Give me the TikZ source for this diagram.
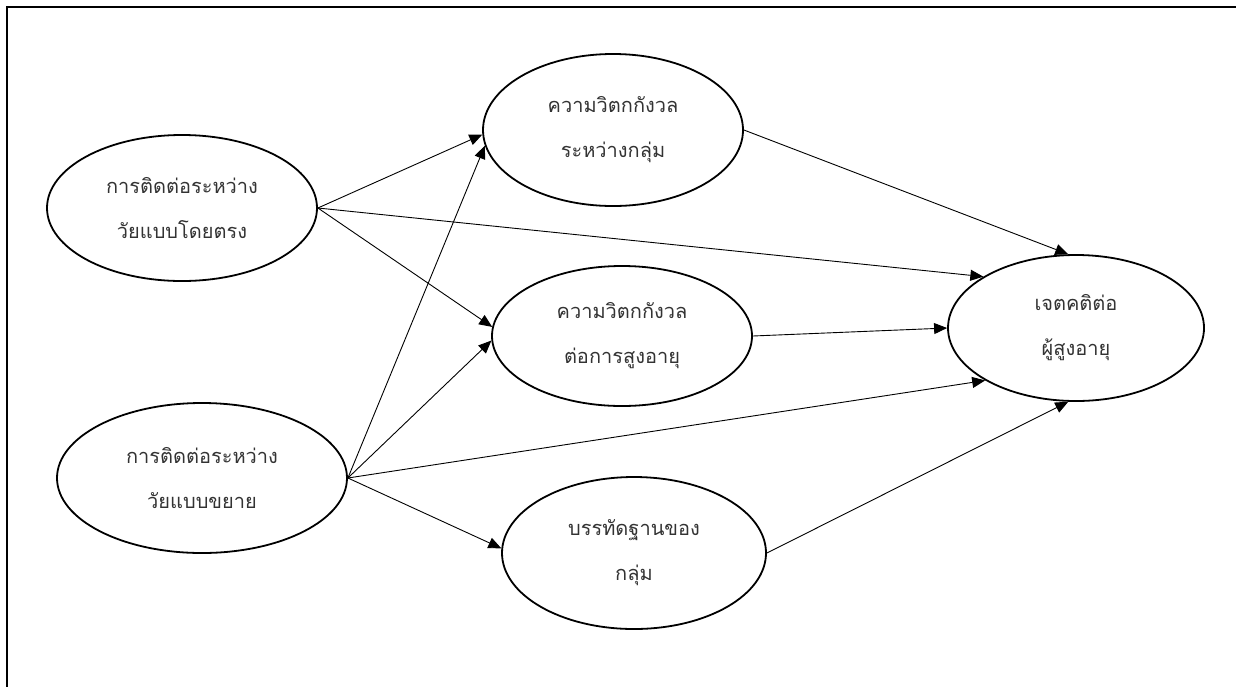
\documentclass[tikz,border=0pt]{standalone}
\usepackage{fontspec}
\newfontfamily\thaifont[Script=Thai]{Loma}
\usetikzlibrary{shapes.geometric,arrows.meta}
\begin{document}
\begin{tikzpicture}[x=1pt,y=-1pt,
  var/.style={ellipse,draw,line width=1.8pt,inner sep=0pt,align=center,
    font=\thaifont\fontsize{20}{45}\selectfont,text=black!80},
  link/.style={line width=0.9pt,-{Triangle[length=13pt,width=11pt]}}]
\useasboundingbox (0,0) rectangle (1236,686);
\draw[line width=2.4pt] (7,700) -- (7,7) -- (1250,7);
\node[var,minimum width=270pt,minimum height=146pt] (A) at (182,208) {การติดต่อระหว่าง\\วัยแบบโดยตรง};
\node[var,minimum width=290pt,minimum height=150pt] (B) at (202,478) {การติดต่อระหว่าง\\วัยแบบขยาย};
\node[var,minimum width=260pt,minimum height=152pt] (C) at (613,130) {ความวิตกกังวล\\ระหว่างกลุ่ม};
\node[var,minimum width=260pt,minimum height=140pt] (D) at (622,336) {ความวิตกกังวล\\ต่อการสูงอายุ};
\node[var,minimum width=264pt,minimum height=152pt] (E) at (634,553) {บรรทัดฐานของ\\กลุ่ม};
\node[var,minimum width=256pt,minimum height=146pt] (F) at (1076,328) {เจตคติต่อ\\ผู้สูงอายุ};
\draw[link] (A.east) -- (C.182);
\draw[link] (A.east) -- (D.176);
\draw[link] (A.east) -- (F.151);
\draw[link] (B.east) -- (C.187);
\draw[link] (B.east) -- (D.182);
\draw[link] (B.east) -- (F.210);
\draw[link] (B.east) -- (E.178);
\draw[link] (C.east) -- (F.96);
\draw[link] (D.east) -- (F.180);
\draw[link] (E.east) -- (F.264);
\end{tikzpicture}
\end{document}
